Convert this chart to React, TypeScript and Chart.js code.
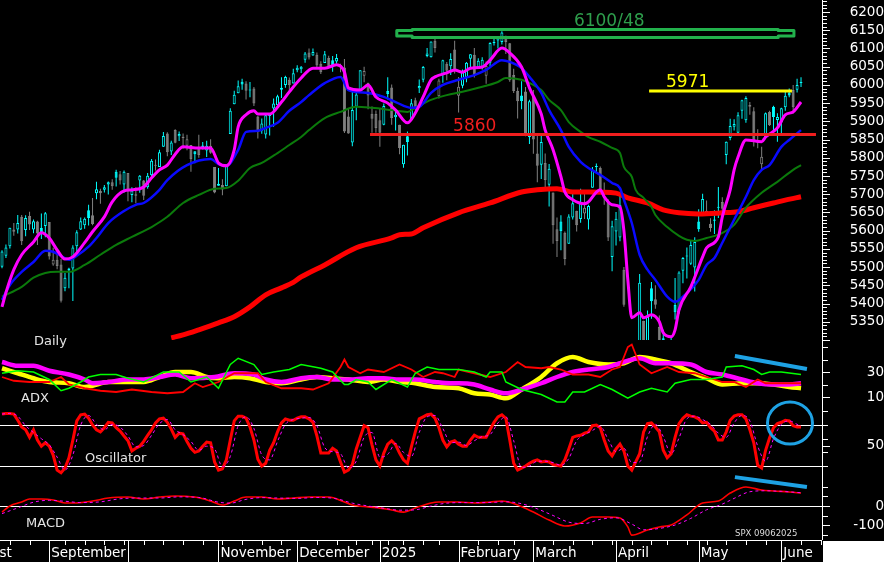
import React, { useEffect, useRef } from 'react';
import { Chart, registerables } from 'chart.js';

Chart.register(...registerables);

const FONT = '"DejaVu Sans", Verdana, sans-serif';

// ---------- trading calendar ----------
const tradingDays: [string, number[]][] = [
  ['2024-08', [15, 16, 19, 20, 21, 22, 23, 26, 27, 28, 29, 30]],
  ['2024-09', [3, 4, 5, 6, 9, 10, 11, 12, 13, 16, 17, 18, 19, 20, 23, 24, 25, 26, 27, 30]],
  ['2024-10', [1, 2, 3, 4, 7, 8, 9, 10, 11, 14, 15, 16, 17, 18, 21, 22, 23, 24, 25, 28, 29, 30, 31]],
  ['2024-11', [1, 4, 5, 6, 7, 8, 11, 12, 13, 14, 15, 18, 19, 20, 21, 22, 25, 26, 27, 29]],
  ['2024-12', [2, 3, 4, 5, 6, 9, 10, 11, 12, 13, 16, 17, 18, 19, 20, 23, 24, 26, 27, 30, 31]],
  ['2025-01', [2, 3, 6, 7, 8, 10, 13, 14, 15, 16, 17, 21, 22, 23, 24, 27, 28, 29, 30, 31]],
  ['2025-02', [3, 4, 5, 6, 7, 10, 11, 12, 13, 14, 18, 19, 20, 21, 24, 25, 26, 27, 28]],
  ['2025-03', [3, 4, 5, 6, 7, 10, 11, 12, 13, 14, 17, 18, 19, 20, 21, 24, 25, 26, 27, 28, 31]],
  ['2025-04', [1, 2, 3, 4, 7, 8, 9, 10, 11, 14, 15, 16, 17, 21, 22, 23, 24, 25, 28, 29, 30]],
  ['2025-05', [1, 2, 5, 6, 7, 8, 9, 12, 13, 14, 15, 16, 19, 20, 21, 22, 23, 27, 28, 29, 30]],
  ['2025-06', [2, 3, 4, 5, 6, 9]],
];
const dates = tradingDays.flatMap(([m, ds]) => ds.map((d) => m + '-' + String(d).padStart(2, '0')));
const axisFutureDates = ['2025-06-10', '2025-06-11', '2025-06-12', '2025-06-13', '2025-06-16'];

// ---------- SPX daily OHLC ----------
const opens = [
  5501,5531,5557,5603,5603,5638,5602,5640,5603,5625,5607,5613,
  5624,5507,5520,5507,5442,5491,5496,5557,5603,5615,5656,5642,5703,5709,5712,5727,5733,5762,5755,5727,
  5758,5698,5696,5738,5738,5719,5752,5778,5775,5830,5867,5817,5876,5859,5858,5833,5835,5818,5827,5834,5820,5833,5775,
  5723,5725,5722,5865,5947,5977,6009,6004,5986,5990,5913,5874,5864,5915,5935,5944,5992,6000,6014,6004,
  6040,6043,6069,6089,6081,6083,6058,6060,6074,6068,6064,6053,6048,5913,5842,5940,5985,6025,6006,5921,5920,
  5903,5891,5983,5993,5911,5891,5782,5859,5905,5958,5991,6014,6079,6076,6121,5969,6027,6058,6051,6097,
  5970,5998,6020,6072,6083,6046,6049,6025,6061,6116,6122,6118,6135,6114,6027,5983,5971,5982,5857,
  5968,5812,5781,5786,5726,5705,5604,5625,5594,5564,5636,5655,5632,5647,5631,5718,5775,5772,5696,5679,5528,
  5598,5581,5493,5292,4954,5194,4965,5353,5256,5442,5412,5336,5305,5233,5208,5396,5381,5490,5529,5509,5499,
  5625,5645,5655,5619,5627,5663,5679,5808,5854,5885,5869,5929,5903,5945,5928,5841,5782,5854,5926,5940,5904,
  5897,5939,5979,5986,5987,6005,
];
const highs = [
  5546,5562,5608,5621,5643,5643,5642,5652,5631,5627,5647,5651,
  5624,5553,5546,5522,5484,5498,5560,5601,5636,5636,5671,5690,5734,5715,5725,5735,5741,5767,5764,5765,
  5758,5719,5719,5753,5739,5758,5797,5795,5822,5871,5870,5847,5878,5872,5867,5863,5835,5818,5863,5843,5847,5851,5775,
  5772,5741,5783,5936,5984,6012,6017,6010,6008,5994,5915,5908,5921,5921,5963,5973,6021,6025,6020,6044,
  6054,6052,6090,6100,6100,6089,6065,6093,6080,6079,6085,6058,6071,5936,5982,5978,6040,6050,6006,5941,5930,
  5935,5949,6021,6001,5928,5891,5836,5872,5961,5965,6015,6052,6101,6119,6128,6017,6069,6063,6087,6121,
  6022,6042,6063,6084,6101,6073,6076,6064,6117,6127,6130,6147,6135,6115,6044,5993,6010,5994,5959,
  5986,5865,5861,5812,5783,5705,5636,5642,5598,5645,5704,5655,5715,5711,5671,5775,5784,5776,5732,5686,5627,
  5651,5695,5500,5292,5247,5267,5481,5353,5381,5459,5450,5367,5328,5233,5310,5470,5489,5528,5554,5572,5582,
  5659,5701,5683,5634,5656,5720,5692,5845,5907,5906,5925,5959,5969,5953,5939,5878,5830,5924,5929,5943,5922,
  5937,5981,5990,6000,6017,6021,
];
const lows = [
  5497,5525,5551,5586,5592,5561,5585,5602,5593,5561,5577,5582,
  5521,5504,5494,5403,5434,5442,5407,5536,5602,5605,5614,5615,5686,5674,5705,5699,5712,5721,5727,5704,
  5681,5678,5675,5704,5684,5715,5745,5765,5775,5830,5804,5808,5840,5846,5825,5821,5762,5785,5800,5823,5802,5811,5703,
  5723,5697,5722,5865,5947,5977,5987,5960,5966,5942,5853,5866,5853,5861,5885,5944,5964,5992,5985,6004,
  6035,6033,6061,6070,6080,6049,6030,6060,6051,6036,6059,6035,5868,5866,5832,5903,5984,6007,5933,5869,5869,
  5830,5889,5960,5891,5875,5810,5773,5806,5905,5930,5978,6007,6076,6075,6089,5963,6006,6013,6027,6031,
  5924,5991,6007,6047,6020,6045,6042,6003,6051,6108,6100,6111,6085,6009,5978,5908,5933,5859,5838,
  5811,5733,5742,5712,5666,5564,5528,5546,5505,5564,5631,5598,5622,5632,5603,5718,5760,5704,5671,5572,5489,
  5559,5571,5391,5070,4835,4910,4857,5115,5221,5358,5386,5221,5256,5102,5208,5356,5372,5456,5469,5506,5433,
  5597,5645,5640,5597,5591,5635,5645,5782,5848,5875,5865,5907,5896,5918,5831,5826,5767,5854,5887,5874,5844,
  5861,5929,5966,5921,5979,5994,
];
const closes = [
  5543,5554,5608,5597,5621,5571,5635,5617,5626,5592,5592,5648,
  5529,5520,5503,5408,5471,5496,5554,5596,5626,5633,5635,5618,5714,5703,5719,5733,5722,5745,5738,5762,
  5709,5710,5700,5751,5696,5751,5792,5780,5815,5860,5815,5842,5841,5865,5854,5851,5797,5810,5808,5824,5833,5814,5705,
  5729,5713,5783,5929,5973,5996,6001,5984,5985,5949,5871,5894,5917,5917,5949,5969,5987,6022,5999,6032,
  6047,6050,6086,6075,6090,6053,6035,6084,6051,6051,6074,6051,5872,5867,5931,5974,6040,6038,5971,5907,5882,
  5869,5942,5975,5909,5918,5827,5836,5843,5950,5937,5997,6049,6086,6119,6101,6012,6068,6039,6071,6041,
  5995,6038,6061,6084,6026,6066,6069,6052,6115,6115,6130,6144,6118,6013,5983,5955,5956,5862,5955,
  5850,5778,5843,5739,5770,5615,5572,5599,5522,5639,5675,5615,5675,5663,5668,5768,5777,5712,5693,5581,5612,
  5633,5671,5397,5074,5062,4983,5457,5268,5363,5406,5397,5276,5283,5158,5288,5376,5485,5525,5529,5561,5569,
  5604,5687,5650,5607,5631,5664,5660,5844,5887,5893,5917,5958,5964,5940,5845,5842,5803,5922,5889,5912,5912,
  5936,5970,5971,5939,6000,6006,
];

// ---------- moving averages: [bar index, price] ----------
const maFast: [number, number][] = [[0,5391],[1,5430],[3,5493],[5,5534],[8,5569],[10,5594],[12,5580],[14,5547],[16,5522],[18,5528],[21,5567],[23,5597],[26,5638],[28,5679],[31,5709],[33,5712],[36,5720],[38,5745],[40,5767],[42,5780],[44,5810],[46,5830],[50,5827],[53,5827],[55,5786],[57,5778],[59,5822],[60,5885],[62,5918],[64,5929],[65,5920],[68,5920],[71,5953],[73,5981],[76,6019],[79,6046],[82,6046],[85,6055],[87,6035],[88,5992],[91,5986],[93,6000],[95,5967],[98,5950],[100,5931],[103,5896],[105,5923],[107,5967],[109,6014],[110,6022],[113,6033],[115,6041],[117,6035],[119,6046],[122,6049],[124,6068],[127,6101],[129,6088],[132,6049],[134,5992],[137,5920],[138,5876],[140,5822],[142,5748],[143,5706],[145,5685],[148,5674],[149,5679],[151,5706],[152,5712],[153,5693],[155,5671],[157,5665],[158,5600],[159,5465],[160,5361],[162,5375],[163,5361],[165,5369],[167,5350],[168,5320],[170,5309],[171,5328],[172,5383],[175,5446],[178,5528],[179,5553],[182,5583],[183,5638],[185,5712],[186,5767],[187,5802],[189,5849],[193,5844],[194,5857],[197,5882],[199,5918],[201,5926],[203,5953]];
const maMid: [number, number][] = [[0,5410],[2,5451],[5,5487],[8,5514],[11,5545],[13,5542],[15,5531],[17,5520],[19,5531],[22,5556],[24,5580],[27,5621],[31,5654],[34,5671],[36,5676],[40,5712],[42,5739],[47,5780],[53,5797],[55,5783],[57,5778],[60,5822],[62,5871],[65,5874],[67,5882],[70,5896],[73,5929],[76,5953],[78,5972],[82,6005],[86,6022],[88,5986],[93,5978],[97,5967],[100,5953],[104,5937],[106,5940],[109,5978],[112,6000],[116,6014],[120,6027],[123,6041],[127,6068],[129,6063],[132,6046],[134,6022],[137,5978],[139,5931],[142,5876],[144,5830],[147,5789],[149,5772],[152,5753],[155,5731],[157,5717],[158,5685],[160,5621],[162,5534],[164,5493],[166,5465],[169,5419],[171,5405],[173,5419],[177,5465],[179,5506],[181,5525],[183,5567],[186,5630],[189,5693],[191,5739],[193,5767],[195,5780],[198,5830],[200,5849],[203,5876]];
const maSlow: [number, number][] = [[0,5419],[5,5446],[8,5471],[11,5484],[14,5487],[17,5487],[21,5506],[25,5534],[29,5561],[33,5583],[38,5610],[42,5638],[46,5676],[50,5698],[54,5715],[57,5717],[60,5737],[63,5772],[66,5786],[70,5813],[73,5835],[76,5857],[78,5876],[82,5909],[86,5926],[90,5940],[94,5937],[99,5931],[103,5926],[105,5937],[109,5959],[113,5972],[117,5981],[121,5992],[126,6008],[128,6019],[132,6014],[135,6000],[137,5986],[139,5959],[142,5931],[144,5898],[147,5871],[149,5857],[152,5844],[155,5827],[157,5813],[158,5775],[160,5748],[161,5712],[163,5690],[165,5665],[166,5643],[169,5610],[172,5586],[174,5575],[176,5572],[179,5580],[182,5589],[186,5616],[189,5663],[193,5704],[197,5734],[201,5767],[203,5780]];
const ma200: [number, number][] = [[43,5306],[46,5314],[50,5328],[55,5347],[59,5364],[63,5391],[67,5424],[71,5443],[74,5458],[76,5473],[82,5506],[90,5553],[99,5580],[101,5589],[104,5591],[107,5608],[116,5649],[124,5676],[132,5706],[136,5712],[141,5715],[145,5706],[149,5706],[156,5703],[159,5690],[164,5676],[168,5657],[172,5649],[177,5646],[183,5649],[187,5652],[191,5663],[196,5676],[199,5684],[203,5693]];

// ---------- ADX panel ----------
const adxMain: [number, number][] = [[0,33],[4,29],[8,25],[12,22],[17,21],[21,18],[23,19],[27,22],[32,22],[36,22],[40,26],[44,30],[48,30],[52,26],[55,25],[59,26],[63,25],[67,22],[71,21],[76,24],[80,26],[84,25],[88,24],[93,22],[97,24],[101,22],[105,21],[110,18],[116,17],[120,13],[124,12],[128,9],[132,16],[137,26],[141,37],[145,42],[149,38],[154,36],[158,37],[162,42],[166,40],[170,37],[175,30],[179,25],[183,20],[188,21],[192,21],[196,20],[200,18],[203,17]];
const adxAvg: [number, number][] = [[0,38],[4,35],[8,35],[12,31],[17,28],[21,24],[23,21],[27,22],[32,24],[36,24],[40,26],[44,28],[48,25],[54,26],[59,29],[64,28],[67,24],[71,22],[76,25],[80,26],[84,24],[88,24],[93,25],[97,25],[101,24],[105,24],[110,22],[114,21],[116,21],[120,20],[124,16],[128,13],[132,16],[137,21],[141,26],[145,30],[149,32],[154,34],[158,38],[162,41],[166,37],[170,37],[175,36],[179,30],[183,28],[188,24],[192,21],[196,20],[200,20],[203,21]];
const diPlus: [number, number][] = [[0,29],[4,31],[8,30],[12,24],[15,15],[17,17],[20,22],[22,26],[25,28],[29,28],[32,25],[36,22],[41,30],[45,30],[48,22],[52,26],[55,17],[58,36],[60,41],[64,36],[66,28],[69,30],[73,32],[76,36],[81,33],[84,30],[87,20],[88,20],[90,24],[93,22],[95,16],[99,24],[103,18],[105,29],[108,34],[111,32],[116,32],[120,30],[123,26],[124,30],[127,30],[128,22],[132,16],[137,12],[141,6],[143,6],[145,14],[148,14],[152,20],[155,16],[159,9],[162,14],[165,17],[169,14],[171,21],[175,24],[179,24],[183,26],[184,34],[188,35],[191,32],[193,28],[195,30],[198,30],[203,28]];
const diMinus: [number, number][] = [[0,26],[3,23],[7,22],[12,22],[15,26],[17,20],[21,17],[25,15],[29,14],[33,16],[38,14],[42,13],[46,14],[49,21],[51,18],[55,22],[59,29],[62,29],[65,29],[67,22],[71,17],[76,17],[79,16],[83,21],[86,34],[87,40],[88,34],[91,29],[93,32],[97,30],[101,36],[104,32],[107,26],[110,30],[112,29],[115,26],[116,32],[120,29],[124,26],[128,30],[131,38],[133,34],[137,33],[139,34],[142,32],[145,28],[149,28],[152,26],[155,32],[157,34],[159,50],[160,52],[162,36],[165,29],[169,34],[172,30],[176,29],[179,26],[183,22],[186,22],[189,18],[192,24],[194,21],[200,21],[203,21]];

// ---------- Oscillator panel (one value per bar) ----------
const oscK = [
  96,97,97,96,87,77,73,62,73,58, 49,54,49,36,14,10,17,32,58,86, 95,96,90,80,73,70,76,84,83,76,
  71,64,57,42,46,49,56,65,73,83, 89,90,84,74,62,68,67,56,46,40, 42,49,55,54,26,14,16,29,58,86,
  93,93,90,77,58,30,20,24,43,54, 70,83,89,87,87,90,92,92,89,84, 64,39,39,39,46,42,26,11,14,22,
  45,62,79,76,51,29,20,39,52,57, 51,39,29,24,48,70,89,92,95,96, 90,76,58,48,55,57,52,49,49,58,
  65,62,62,62,73,84,92,95,90,58, 24,14,17,20,24,27,29,26,27,26, 22,21,20,29,45,62,64,65,68,70,
  79,80,76,58,42,35,45,52,42,20, 14,26,38,70,82,83,77,70,43,32, 38,62,82,90,95,93,92,89,83,84,
  76,71,58,58,70,87,93,95,95,89, 73,54,21,17,43,61,76,82,84,87, 86,79,77,77,
];
const oscD: [number, number][] = [[0,96],[2,97],[4,93],[6,79],[8,69],[10,60],[12,51],[14,33],[16,14],[18,36],[20,80],[22,94],[24,81],[26,73],[28,81],[30,77],[32,64],[34,48],[36,50],[38,65],[40,82],[42,88],[44,73],[46,66],[48,56],[50,43],[52,49],[54,45],[56,19],[58,34],[60,79],[62,92],[64,75],[66,36],[68,29],[70,56],[72,81],[74,88],[76,90],[78,91],[80,79],[82,47],[84,41],[86,38],[88,17],[90,27],[92,62],[94,69],[96,33],[98,37],[100,53],[102,40],[104,34],[106,69],[108,92],[110,94],[112,75],[114,54],[116,55],[118,50],[120,57],[122,63],[124,66],[126,83],[128,92],[130,57],[132,18],[134,20],[136,27],[138,27],[140,25],[142,21],[144,31],[146,57],[148,66],[150,72],[152,78],[154,59],[156,41],[158,46],[160,25],[162,26],[164,63],[166,81],[168,63],[170,38],[172,61],[174,89],[176,93],[178,88],[180,81],[182,68],[184,62],[186,83],[188,94],[190,86],[192,49],[194,27],[196,60],[198,81],[200,86],[202,81],[203,78]];
const oscLevels = [80, 20];

// ---------- MACD panel ----------
const macdLine: [number, number][] = [[0,-32],[2,0],[5,21],[7,37],[10,37],[13,32],[16,16],[19,16],[23,26],[27,42],[32,47],[36,37],[40,47],[44,53],[49,47],[53,26],[56,5],[59,26],[62,47],[66,47],[70,37],[74,42],[78,47],[83,47],[87,21],[89,5],[93,-5],[96,-11],[99,-21],[102,-32],[105,-11],[109,16],[111,21],[116,21],[120,16],[124,21],[127,26],[131,5],[135,-32],[139,-74],[143,-105],[147,-89],[150,-58],[154,-58],[157,-63],[159,-110],[160,-153],[164,-126],[167,-110],[170,-100],[174,-47],[178,16],[182,26],[185,68],[189,100],[193,84],[196,79],[200,74],[203,68]];
const macdSignal: [number, number][] = [[0,-40],[4,-10],[8,20],[12,30],[16,25],[20,18],[25,22],[30,38],[35,42],[40,42],[45,48],[50,45],[55,20],[58,15],[62,35],[66,44],[70,42],[75,40],[80,45],[85,38],[89,15],[93,0],[97,-12],[101,-22],[105,-20],[109,0],[113,15],[118,18],[123,18],[128,22],[132,12],[136,-15],[140,-50],[144,-85],[148,-92],[152,-70],[156,-62],[160,-95],[163,-125],[167,-118],[171,-100],[175,-65],[179,-20],[183,10],[186,40],[190,75],[194,80],[198,77],[203,70]];

// ---------- axis ticks / labels ----------
const priceTicks = [5350,5400,5450,5500,5550,5600,5650,5700,5750,5800,5850,5900,5950,6000,6050,6100,6150,6200];
const adxTicks = [10, 30];
const oscTicks = [50];
const macdTicks = [-100, 0];
const monthTickIdx = [-10, 12, 32, 55, 75, 96, 116, 135, 156, 177, 198];
const monthLabels = ['August', 'September', '', 'November', 'December', '2025', 'February', 'March', 'April', 'May', 'June'];

// ---------- annotations (data units) ----------
const zoneIdx = [100.3, 104.2, 197.2, 201.2];
const zoneOuter = [6152, 6130];
const zoneTab = [6149, 6134];
const zoneText = { text: '6100/48', idx: 145.3, price: 6162 };
const yellowLevel = { price: 5983, from: 164.4, to: 200.7, text: '5971', textIdx: 168.7, textPrice: 5994 };
const redLevel = { price: 5864, from: 93.5, to: 206.8, text: '5860', textIdx: 114.6, textPrice: 5874 };
const adxTrend = [[186.2, 42.8], [204.5, 32.4]];
const macdTrend = [[186.2, 152], [204.5, 100]];
const oscCircle = { idx: 200.2, value: 82.9 };

const X_MIN = -0.51;
const X_MAX = 208.33;

const CYAN = '#00FFFF';
const GRAY = '#808080';
const BLUE_NOTE = '#1EA2E4';

const allAxisDates = dates.concat(axisFutureDates);
const weekOf = (s: string) => Math.floor((Date.parse(s + 'T00:00:00Z') / 86400000 + 3) / 7);
const weekStarts = allAxisDates
  .map((_, i) => i)
  .filter((i) => i > 0 && weekOf(allAxisDates[i]) !== weekOf(allAxisDates[i - 1]));

const bgPlugin = {
  id: 'bgPlugin',
  beforeDraw(chart: any) {
    const { ctx, width, height } = chart;
    ctx.save();
    ctx.fillStyle = '#000000';
    ctx.fillRect(0, 0, width, height);
    ctx.restore();
  },
  afterDraw(chart: any) {
    const { ctx, width, height, chartArea: ca } = chart;
    const l = Math.round(ca.right) + 1;
    const t = Math.round(ca.bottom) + 1;
    ctx.save();
    ctx.fillStyle = '#FFFFFF';
    ctx.fillRect(l, t, width - l, height - t);
    ctx.restore();
  },
};

const panelClip = {
  id: 'panelClip',
  beforeDatasetDraw(chart: any, args: any) {
    const ys = args.meta.yScale;
    const ca = chart.chartArea;
    const ctx = chart.ctx;
    ctx.save();
    ctx.beginPath();
    ctx.rect(ca.left, ys.top, ca.right - ca.left, ys.bottom - ys.top);
    ctx.clip();
  },
  afterDatasetDraw(chart: any) {
    chart.ctx.restore();
  },
};

const guides = {
  id: 'guides',
  beforeDatasetsDraw(chart: any) {
    const { ctx, chartArea: ca, scales } = chart;
    const { x, yPrice, yAdx, yOsc, yMacd } = scales;
    ctx.save();
    ctx.strokeStyle = '#FFFFFF';
    ctx.lineWidth = 1;
    const hline = (y: number, x0: number, x1: number) => {
      const yy = Math.round(y) + 0.5;
      ctx.beginPath();
      ctx.moveTo(x0, yy);
      ctx.lineTo(x1, yy);
      ctx.stroke();
    };
    const vline = (xv: number, y0: number, y1: number) => {
      const xx = Math.round(xv) + 0.5;
      ctx.beginPath();
      ctx.moveTo(xx, y0);
      ctx.lineTo(xx, y1);
      ctx.stroke();
    };
    oscLevels.forEach((v) => hline(yOsc.getPixelForValue(v), ca.left, ca.right));
    hline(yMacd.getPixelForValue(0), ca.left, ca.right);
    vline(ca.right, 0, ca.bottom);
    hline(ca.bottom, ca.left, ca.right);
    const rt = (scale: any, v: number, len: number) => {
      const yy = Math.round(scale.getPixelForValue(v)) + 0.5;
      ctx.beginPath();
      ctx.moveTo(ca.right, yy);
      ctx.lineTo(ca.right + len, yy);
      ctx.stroke();
    };
    for (let v = 5300; v <= 6230; v += 10) rt(yPrice, v, v % 50 === 0 ? 8 : 5);
    for (let v = 10; v <= 50; v += 10) rt(yAdx, v, v === 10 || v === 30 ? 8 : 6);
    for (let v = 20; v <= 100; v += 20) rt(yOsc, v, 6);
    rt(yOsc, 50, 8);
    for (let v = -150; v <= 100; v += 50) rt(yMacd, v, v === 0 || v === -100 ? 8 : 6);
    weekStarts.forEach((i) => vline(x.getPixelForValue(i), ca.bottom, ca.bottom + 5));
    monthTickIdx.forEach((i) => vline(x.getPixelForValue(i), ca.bottom, chart.height));
    ctx.restore();
  },
};

const overlay = {
  id: 'overlay',
  afterDatasetsDraw(chart: any) {
    const { ctx, scales } = chart;
    const { x, yPrice, yAdx, yOsc, yMacd } = scales;
    const X = (v: number) => x.getPixelForValue(v);
    const P = (v: number) => yPrice.getPixelForValue(v);
    ctx.save();

    // resistance zone box
    const [z0, z1, z2, z3] = zoneIdx.map(X);
    const ot = P(zoneOuter[0]), ob = P(zoneOuter[1]);
    const tt = P(zoneTab[0]), tb = P(zoneTab[1]);
    ctx.strokeStyle = '#22B14C';
    ctx.lineWidth = 3;
    ctx.lineJoin = 'round';
    ctx.beginPath();
    ctx.moveTo(z0, tt); ctx.lineTo(z1, tt); ctx.lineTo(z1, ot); ctx.lineTo(z2, ot);
    ctx.lineTo(z2, tt); ctx.lineTo(z3, tt); ctx.lineTo(z3, tb); ctx.lineTo(z2, tb);
    ctx.lineTo(z2, ob); ctx.lineTo(z1, ob); ctx.lineTo(z1, tb); ctx.lineTo(z0, tb);
    ctx.closePath();
    ctx.stroke();

    // level lines
    const level = (lv: any, color: string) => {
      ctx.strokeStyle = color;
      ctx.lineWidth = 3;
      ctx.beginPath();
      ctx.moveTo(X(lv.from), P(lv.price));
      ctx.lineTo(X(lv.to), P(lv.price));
      ctx.stroke();
      ctx.fillStyle = color;
      ctx.font = '17px ' + FONT;
      ctx.textBaseline = 'alphabetic';
      ctx.textAlign = 'left';
      ctx.fillText(lv.text, X(lv.textIdx), P(lv.textPrice));
    };
    level(yellowLevel, '#FFFF00');
    level(redLevel, '#F01E1E');
    ctx.fillStyle = '#2E9E4C';
    ctx.font = '17px ' + FONT;
    ctx.fillText(zoneText.text, X(zoneText.idx), P(zoneText.price));

    // blue trend notes
    ctx.strokeStyle = BLUE_NOTE;
    ctx.lineWidth = 4;
    ctx.lineCap = 'butt';
    ctx.beginPath();
    ctx.moveTo(X(adxTrend[0][0]), yAdx.getPixelForValue(adxTrend[0][1]));
    ctx.lineTo(X(adxTrend[1][0]), yAdx.getPixelForValue(adxTrend[1][1]));
    ctx.stroke();
    ctx.beginPath();
    ctx.moveTo(X(macdTrend[0][0]), yMacd.getPixelForValue(macdTrend[0][1]));
    ctx.lineTo(X(macdTrend[1][0]), yMacd.getPixelForValue(macdTrend[1][1]));
    ctx.stroke();
    ctx.lineWidth = 3;
    ctx.beginPath();
    ctx.ellipse(X(oscCircle.idx), yOsc.getPixelForValue(oscCircle.value), 22.5, 21, 0, 0, Math.PI * 2);
    ctx.stroke();

    // panel captions
    ctx.fillStyle = '#E4E4E4';
    ctx.font = '13px ' + FONT;
    ctx.fillText('Daily', 34, yAdx.top + 5);
    ctx.fillText('ADX', 21, yAdx.bottom - 3);
    ctx.fillText('Oscillator', 85, yOsc.top + 57);
    ctx.fillText('MACD', 26, yMacd.top + 49);
    ctx.font = '8.5px ' + FONT;
    ctx.fillStyle = '#DDDDDD';
    ctx.fillText('SPX 09062025', 735, yMacd.bottom - 4);
    ctx.restore();
  },
};

function buildConfig(pads: Record<string, number>) {
  const up = closes.map((c, i) => c >= (i > 0 ? closes[i - 1] : opens[i]));
  const colr = up.map((u) => (u ? CYAN : GRAY));
  const bodyFill = closes.map((c, i) => (c >= opens[i] ? '#000000' : colr[i]));
  const pts = (arr: [number, number][]) => arr.map(([px, py]) => ({ x: px, y: py }));
  const line = (label: string, data: any[], color: string, width: number, yAxisID: string, order: number, extra: any = {}) => ({
    type: 'line',
    label,
    data,
    xAxisID: 'x',
    yAxisID,
    borderColor: color,
    borderWidth: width,
    pointRadius: 0,
    fill: false,
    cubicInterpolationMode: 'monotone',
    order,
    ...extra,
  });

  const yAxis = (min: number, max: number, weight: number, tickVals: number[], pad: number) => ({
    type: 'linear',
    position: 'right',
    stack: 'panels',
    stackWeight: weight,
    min,
    max,
    offset: false,
    bounds: 'data',
    grid: { display: false, drawTicks: false },
    border: { display: false },
    afterBuildTicks: (s: any) => {
      s.ticks = tickVals.map((v) => ({ value: v }));
    },
    afterFit: (s: any) => {
      s.width = 62;
      s.paddingTop = 0;
      s.paddingBottom = 0;
      s.paddingLeft = 0;
      s.paddingRight = 0;
    },
    ticks: {
      autoSkip: false,
      color: '#FFFFFF',
      padding: pad,
      crossAlign: 'far',
      font: { family: FONT, size: 13.5 },
      callback: (v: any) => String(v),
    },
  });

  return {
    type: 'bar',
    data: {
      datasets: [
        line('MA fast', pts(maFast), '#FF00FF', 3, 'yPrice', 1),
        line('MA mid', pts(maMid), '#0A0AFF', 2.5, 'yPrice', 2),
        line('MA slow', pts(maSlow), '#0B7A0B', 2, 'yPrice', 3),
        line('MA 200', pts(ma200), '#FF0000', 5, 'yPrice', 4),
        {
          type: 'bar',
          label: 'Body',
          data: closes.map((c, i) => ({ x: i, y: [opens[i], c] })),
          xAxisID: 'x',
          yAxisID: 'yPrice',
          backgroundColor: bodyFill,
          borderColor: colr,
          borderWidth: 1,
          borderSkipped: false,
          inflateAmount: 0,
          grouped: false,
          barPercentage: 1,
          categoryPercentage: 1,
          maxBarThickness: 3,
          minBarLength: 1,
          order: 10,
        },
        {
          type: 'bar',
          label: 'Range',
          data: closes.map((_, i) => ({ x: i, y: [lows[i], highs[i]] })),
          xAxisID: 'x',
          yAxisID: 'yPrice',
          backgroundColor: colr,
          borderWidth: 0,
          inflateAmount: 0,
          grouped: false,
          barPercentage: 1,
          categoryPercentage: 1,
          maxBarThickness: 1,
          minBarLength: 1,
          order: 11,
        },
        line('+DI', pts(diPlus), '#00FF00', 1.5, 'yAdx', 1, { cubicInterpolationMode: 'default', tension: 0 }),
        line('-DI', pts(diMinus), '#FF0000', 1.8, 'yAdx', 2, { cubicInterpolationMode: 'default', tension: 0 }),
        line('ADXR', pts(adxAvg), '#FF00FF', 4.5, 'yAdx', 3),
        line('ADX', pts(adxMain), '#FFFF00', 4.5, 'yAdx', 4),
        line('%D', pts(oscD), '#FF00FF', 1, 'yOsc', 1, { borderDash: [3, 3] }),
        line('%K', oscK.map((v, i) => ({ x: i, y: v })), '#FF0000', 3, 'yOsc', 2, { cubicInterpolationMode: 'default', tension: 0 }),
        line('Signal', pts(macdSignal), '#FF00FF', 1, 'yMacd', 1, { borderDash: [3, 3] }),
        line('MACD', pts(macdLine), '#FF0000', 1.6, 'yMacd', 2),
      ],
    },
    options: {
      responsive: false,
      animation: false,
      devicePixelRatio: 1,
      events: [],
      layout: { padding: 0 },
      plugins: { legend: { display: false }, tooltip: { enabled: false } },
      scales: {
        x: {
          type: 'linear',
          position: 'bottom',
          min: X_MIN,
          max: X_MAX,
          offset: false,
          bounds: 'data',
          grid: { display: false, drawTicks: false, offset: false },
          border: { display: false },
          afterBuildTicks: (s: any) => {
            s.ticks = monthTickIdx.map((v) => ({ value: v }));
          },
          afterFit: (s: any) => {
            s.height = 22;
            s.paddingLeft = 0;
            s.paddingRight = 0;
            s.paddingTop = 0;
            s.paddingBottom = 0;
          },
          ticks: {
            autoSkip: false,
            maxRotation: 0,
            minRotation: 0,
            align: 'start',
            labelOffset: 2,
            padding: 5,
            color: '#FFFFFF',
            font: { family: FONT, size: 13.5 },
            callback: (_v: any, i: number) => monthLabels[i],
          },
        },
        yPrice: yAxis(5300, 6233, 340, priceTicks, pads.price),
        yAdx: yAxis(3.6, 55.6, 65, adxTicks, pads.adx),
        yOsc: yAxis(2.45, 109.3, 73, oscTicks, pads.osc),
        yMacd: yAxis(-178.8, 147.3, 62, macdTicks, pads.macd),
      },
    },
    plugins: [bgPlugin, guides, panelClip, overlay],
  };
}

export default function App() {
  const ref = useRef<HTMLCanvasElement>(null);
  useEffect(() => {
    document.body.style.margin = '0';
    document.body.style.background = '#000';
    const m = document.createElement('canvas').getContext('2d')!;
    m.font = '13.5px ' + FONT;
    const widest = (arr: number[]) => Math.max(...arr.map((v) => m.measureText(String(v)).width));
    const RIGHT_EDGE = 58;
    const pads = {
      price: RIGHT_EDGE - widest(priceTicks),
      adx: RIGHT_EDGE - widest(adxTicks),
      osc: RIGHT_EDGE - widest(oscTicks),
      macd: RIGHT_EDGE - widest(macdTicks),
    };
    const chart = new Chart(ref.current as HTMLCanvasElement, buildConfig(pads) as any);
    return () => chart.destroy();
  }, []);
  return (
    <div style={{ position: 'fixed', left: 0, top: 0, width: 884, height: 562, background: '#000' }}>
      <canvas ref={ref} width={884} height={562} style={{ display: 'block', width: 884, height: 562 }} />
      <div style={{ position: 'absolute', left: 823, top: 541, width: 61, height: 21, background: '#FFFFFF' }} />
    </div>
  );
}
